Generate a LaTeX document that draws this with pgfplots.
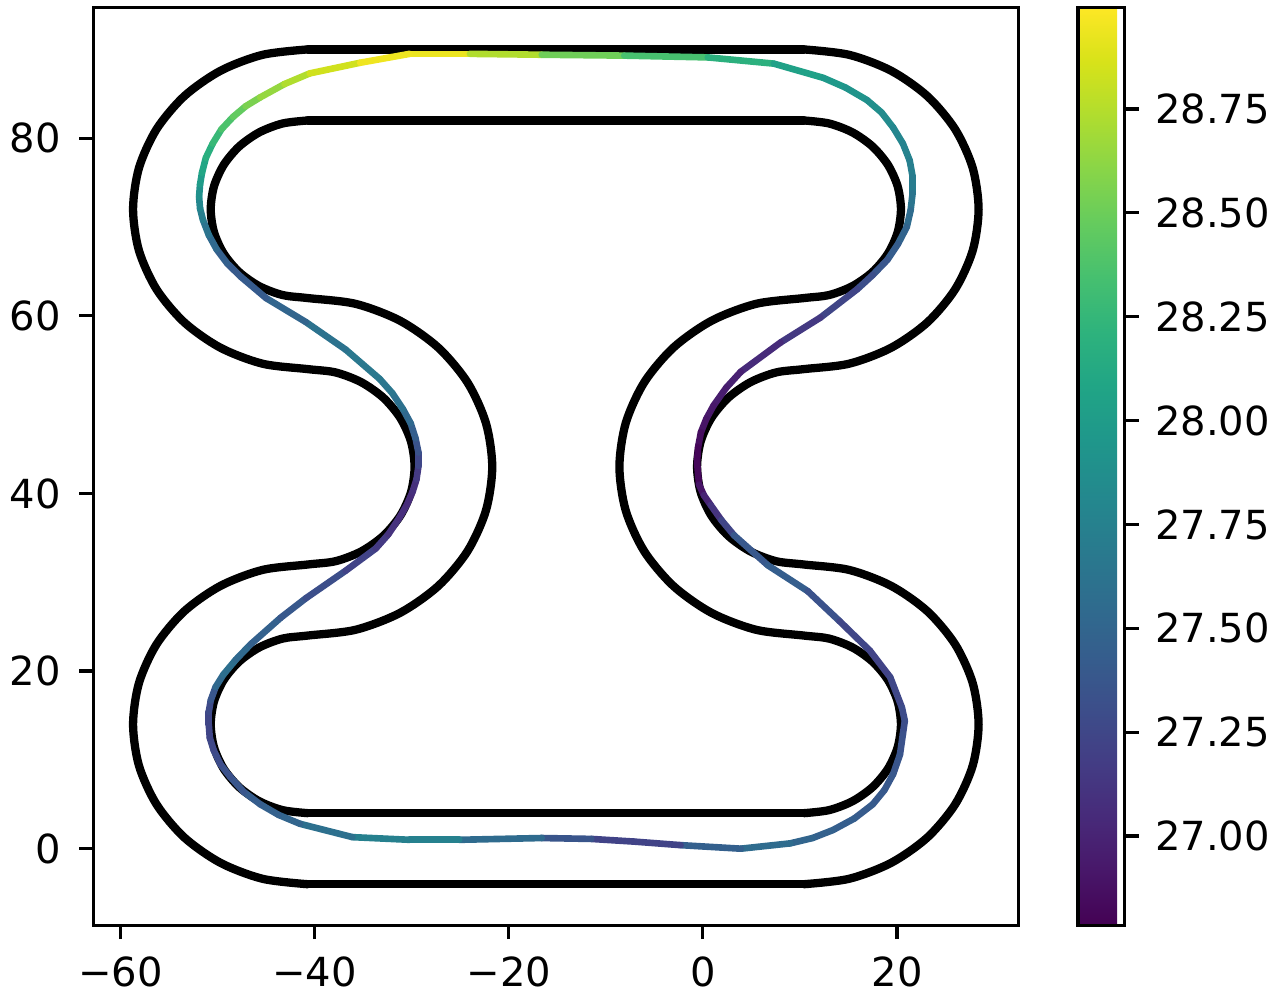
\documentclass[border=0pt]{standalone}
\usepackage{fontspec}
\setmainfont{DejaVu Sans}
\usepackage{pgfplots}
\usepackage{pgfplotstable}
\pgfplotsset{compat=1.18}

% racing line: x, y, speed
\pgfplotstableread{
x y c
-30.2 89.5 28.99
-24.0 89.5 28.88
-16.6 89.4 28.60
-8.1 89.3 28.42
0.5 89.1 28.28
7.3 88.4 28.10
12.4 86.8 28.00
14.7 85.7 27.95
16.9 84.3 27.90
18.4 82.9 27.86
19.6 81.2 27.82
20.6 79.4 27.78
21.3 77.5 27.75
21.6 75.7 27.72
21.6 73.8 27.68
21.4 71.9 27.60
21.0 70.0 27.52
20.1 68.1 27.46
19.0 66.3 27.40
17.5 64.6 27.34
15.9 63.0 27.28
12.1 59.8 27.20
8.0 57.0 27.10
3.9 53.7 27.00
2.4 51.9 26.97
1.1 49.9 26.94
0.35 48.4 26.91
-0.2 46.9 26.88
-0.5 45.2 26.83
-0.6 43.5 26.79
-0.4 41.0 26.85
0.1 39.8 26.95
0.8 38.7 27.05
1.9 37.0 27.18
3.2 35.3 27.30
6.7 31.9 27.48
10.8 29.0 27.40
14.1 25.6 27.27
17.2 22.3 27.22
19.3 19.3 27.23
20.5 15.9 27.28
20.8 14.4 27.30
20.6 12.9 27.32
20.3 10.6 27.35
19.6 8.4 27.38
18.7 6.6 27.39
17.5 5.0 27.40
15.6 3.4 27.42
13.4 2.1 27.45
11.3 1.2 27.48
9.0 0.6 27.52
3.9 0.0 27.60
-2.3 0.4 27.30
-7.1 0.8 27.15
-11.5 1.1 27.30
-16.6 1.2 27.42
-25.1 1.0 27.68
-30.2 1.0 27.82
-36.1 1.3 27.67
-41.5 2.8 27.52
-43.7 3.8 27.48
-45.6 5.0 27.45
-47.3 6.4 27.40
-48.7 8.1 27.35
-49.7 9.5 27.31
-50.4 11.1 27.27
-50.8 12.5 27.25
-50.9 14.0 27.23
-50.9 15.4 27.26
-50.7 16.7 27.30
-50.2 18.2 27.45
-49.4 19.6 27.62
-48.1 21.3 27.56
-46.6 23.0 27.50
-43.5 26.0 27.42
-40.9 28.2 27.35
-36.8 31.3 27.27
-33.7 33.8 27.18
-32.4 35.4 27.13
-31.3 37.2 27.08
-30.5 38.7 27.06
-29.9 40.2 27.05
-29.5 41.6 27.12
-29.3 43.1 27.20
-29.3 44.6 27.30
-29.6 46.2 27.40
-30.1 47.9 27.49
-30.9 49.5 27.58
-32.0 51.3 27.63
-33.3 52.9 27.67
-36.8 56.2 27.67
-40.9 59.3 27.55
-45.0 62.0 27.45
-47.6 64.4 27.38
-49.0 65.9 27.43
-50.1 67.5 27.48
-50.9 69.1 27.58
-51.5 70.8 27.68
-51.8 72.1 27.77
-51.9 73.4 27.85
-51.8 74.8 27.95
-51.6 76.1 28.05
-51.2 77.8 28.14
-50.5 79.4 28.22
-49.6 81.0 28.32
-48.4 82.4 28.42
-47.1 83.6 28.51
-45.6 84.6 28.60
-43.1 86.1 28.69
-40.5 87.3 28.78
-35.3 88.5 28.90
-30.2 89.5 28.99
}\raceline

\pgfplotsset{
  every axis/.append style={
    axis line style={line width=1.15pt},
    every tick/.style={black, line width=1.15pt},
    major tick length=5pt,
    tick align=outside,
    ticklabel style={font=\fontsize{14.5}{17}\selectfont, inner sep=1pt},
  },
  track/.style={black, line width=3pt, line cap=round, line join=round},
}

\begin{document}
\begin{tikzpicture}
\begin{axis}[
  scale only axis,
  width=334.8pt, height=332.1pt,
  xmin=-62.8, xmax=32.5,
  ymin=-8.63, ymax=94.7,
  xtick={-60,-40,-20,0,20},
  xticklabels={−60,−40,−20,0,20},
  ytick={0,20,40,60,80},
  yticklabels={0,20,40,60,80},
  xticklabel style={yshift=-5.3pt},
  yticklabel style={xshift=-5.5pt},
  xtick pos=left, ytick pos=left,
  no markers,
  colormap/viridis,
  point meta min=26.785, point meta max=28.994,
  colorbar,
  colorbar style={
    at={(parent axis.north east)}, anchor=north west,
    xshift=13pt,
    scale only axis,
    width=17pt,
    height=332.1pt,
    ytick={27,27.25,27.5,27.75,28,28.25,28.5,28.75},
    yticklabels={27.00,27.25,27.50,27.75,28.00,28.25,28.50,28.75},
    yticklabel style={xshift=4.8pt},
    ytick pos=right, yticklabel pos=right,
    tick align=outside,
  },
]
% outer boundary: straights
\addplot[track] coordinates {(-40.7,90) (10.4,90)};
\addplot[track] coordinates {(-40.7,-4) (10.4,-4)};
% outer boundary: right side
\addplot[track, smooth] coordinates {
(10.4,90)
(15.06,89.39) (19.4,87.59) (23.13,84.73) (25.99,81) (27.79,76.66) (28.4,72)
(27.79,67.34) (25.99,63) (23.13,59.27) (19.4,56.41) (15.06,54.61) (10.4,54)
(7.55,53.63) (4.9,52.53) (2.62,50.78) (0.87,48.5) (-0.23,45.85) (-0.6,43)
(-0.23,40.15) (0.87,37.5) (2.62,35.22) (4.9,33.47) (7.55,32.37) (10.4,32)
(15.06,31.39) (19.4,29.59) (23.13,26.73) (25.99,23) (27.79,18.66) (28.4,14)
(27.79,9.34) (25.99,5) (23.13,1.27) (19.4,-1.59) (15.06,-3.39) (10.4,-4)
};
% outer boundary: left side
\addplot[track, smooth] coordinates {
(-40.7,-4)
(-45.36,-3.39) (-49.7,-1.59) (-53.43,1.27) (-56.29,5) (-58.09,9.34) (-58.7,14)
(-58.09,18.66) (-56.29,23) (-53.43,26.73) (-49.7,29.59) (-45.36,31.39) (-40.7,32)
(-37.85,32.37) (-35.2,33.47) (-32.92,35.22) (-31.17,37.5) (-30.07,40.15) (-29.7,43)
(-30.07,45.85) (-31.17,48.5) (-32.92,50.78) (-35.2,52.53) (-37.85,53.63) (-40.7,54)
(-45.36,54.61) (-49.7,56.41) (-53.43,59.27) (-56.29,63) (-58.09,67.34) (-58.7,72)
(-58.09,76.66) (-56.29,81) (-53.43,84.73) (-49.7,87.59) (-45.36,89.39) (-40.7,90)
};
% inner boundary: straights
\addplot[track] coordinates {(-40.7,82) (10.4,82)};
\addplot[track] coordinates {(-40.7,4) (10.4,4)};
% inner boundary: right side
\addplot[track, smooth] coordinates {
(10.4,82)
(12.99,81.66) (15.4,80.66) (17.47,79.07) (19.06,77) (20.06,74.59) (20.4,72)
(20.06,69.41) (19.06,67) (17.47,64.93) (15.4,63.34) (12.99,62.34) (10.4,62)
(5.48,61.35) (0.9,59.45) (-3.03,56.43) (-6.05,52.5) (-7.95,47.92) (-8.6,43)
(-7.95,38.08) (-6.05,33.5) (-3.03,29.57) (0.9,26.55) (5.48,24.65) (10.4,24)
(12.99,23.66) (15.4,22.66) (17.47,21.07) (19.06,19) (20.06,16.59) (20.4,14)
(20.06,11.41) (19.06,9) (17.47,6.93) (15.4,5.34) (12.99,4.34) (10.4,4)
};
% inner boundary: left side
\addplot[track, smooth] coordinates {
(-40.7,4)
(-43.29,4.34) (-45.7,5.34) (-47.77,6.93) (-49.36,9) (-50.36,11.41) (-50.7,14)
(-50.36,16.59) (-49.36,19) (-47.77,21.07) (-45.7,22.66) (-43.29,23.66) (-40.7,24)
(-35.78,24.65) (-31.2,26.55) (-27.27,29.57) (-24.25,33.5) (-22.35,38.08) (-21.7,43)
(-22.35,47.92) (-24.25,52.5) (-27.27,56.43) (-31.2,59.45) (-35.78,61.35) (-40.7,62)
(-43.29,62.34) (-45.7,63.34) (-47.77,64.93) (-49.36,67) (-50.36,69.41) (-50.7,72)
(-50.36,74.59) (-49.36,77) (-47.77,79.07) (-45.7,80.66) (-43.29,81.66) (-40.7,82)
};
% racing line coloured by speed
\addplot[mesh, point meta=explicit, line width=2.4pt, line cap=round]
  table[x=x, y=y, meta=c] {\raceline};
\end{axis}
% small white margin as in the reference
\coordinate (sw) at (current bounding box.south west);
\coordinate (ne) at (current bounding box.north east);
\path (sw) ++(-2.6pt,-1.5pt) (ne) ++(1.9pt,2.2pt);
\end{tikzpicture}
\end{document}
